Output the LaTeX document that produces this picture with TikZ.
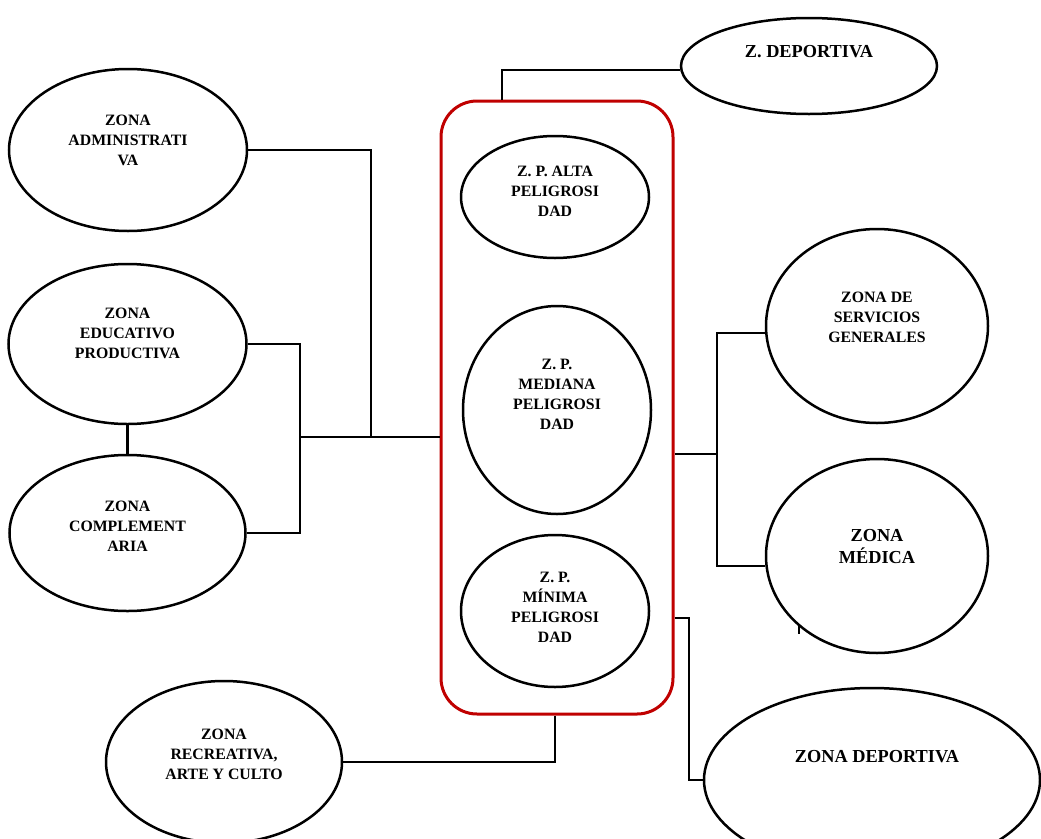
\documentclass[tikz,border=0pt]{standalone}
\usepackage{fontspec}
\setmainfont{Liberation Serif}
\usetikzlibrary{shapes.geometric}
\definecolor{boxred}{HTML}{C00000}
\begin{document}
\begin{tikzpicture}[x=1pt,y=-1pt,
  zone/.style={draw, ellipse, line width=2.5pt, inner sep=0pt},
  lbl/.style={align=center, font=\bfseries\fontsize{15.8}{20}\selectfont, inner sep=0pt},
  big/.style={align=center, font=\bfseries\fontsize{18.3}{22}\selectfont, inner sep=0pt},
  link/.style={draw, line width=2.2pt}]
\clip (0,0) rectangle (1041,838);
\fill[white] (0,0) rectangle (1041,838);

% left ellipses
\node[zone, minimum width=238pt, minimum height=162pt] (adm) at (128,150) {};
\node[lbl] (admt) at (128,140) {ZONA\\ADMINISTRATI\\VA};
\node[zone, minimum width=238pt, minimum height=160pt] (edu) at (127.5,344) {};
\node[lbl] (edut) at (127.5,333) {ZONA\\EDUCATIVO\\PRODUCTIVA};
\node[zone, minimum width=236pt, minimum height=156pt] (comp) at (127.5,533) {};
\node[lbl] (compt) at (127.5,526) {ZONA\\COMPLEMENT\\ARIA};
\node[zone, minimum width=236pt, minimum height=162pt] (recr) at (224,762) {};
\node[lbl] (recrt) at (224,754) {ZONA\\RECREATIVA,\\ARTE Y CULTO};

% central box
\node[draw=boxred, line width=3pt, rounded corners=36pt, minimum width=232pt, minimum height=613pt, inner sep=0pt] (box) at (557,407.5) {};
\node[zone, minimum width=188pt, minimum height=122pt] (alta) at (555,197) {};
\node[lbl] (altat) at (555,191) {Z. P. ALTA\\PELIGROSI\\DAD};
\node[zone, minimum width=188pt, minimum height=208pt] (medi) at (557,410) {};
\node[lbl] (medit) at (557,394) {Z. P.\\MEDIANA\\PELIGROSI\\DAD};
\node[zone, minimum width=188pt, minimum height=152pt] (mini) at (555,611) {};
\node[lbl] (minit) at (555,607) {Z. P.\\MÍNIMA\\PELIGROSI\\DAD};

% right ellipses
\node[zone, minimum width=256pt, minimum height=96pt] (zdep) at (809,66) {};
\node[big] (zdept) at (809,52) {Z. DEPORTIVA};
\node[zone, minimum width=222pt, minimum height=194pt] (serv) at (877,326) {};
\node[lbl] (servt) at (877,317) {ZONA DE\\SERVICIOS\\GENERALES};
\node[zone, minimum width=222pt, minimum height=194pt] (medz) at (877,556) {};
\node[big] (medzt) at (877,547) {ZONA\\MÉDICA};
\node[zone, minimum width=336pt, minimum height=184pt] (zd) at (872,780) {};
\node[big] (zdt) at (877,757) {ZONA DEPORTIVA};

% junction coordinates
\coordinate (lj) at (371,437);
\coordinate (ej) at (300,437);
\coordinate (tj) at (502,70);
\coordinate (rj) at (717,454);
\coordinate (rt) at (717,333);
\coordinate (rb) at (717,566);
\coordinate (dj) at (689,618);
\coordinate (bj) at (555,765);
\coordinate (tk) at (799,624);

% connectors
\draw[link] (adm.east) -| (lj);
\draw[link] (edu.east) -| (ej) |- (comp.east);
\draw[link] (edu.south) -- (comp.north);
\draw[link] (ej) -- (ej -| box.west);
\draw[link] (box.north -| tj) -- (tj) -- (tj -| zdep.west);
\draw[link] (rj -| box.east) -- (rj);
\draw[link] (rt -| serv.west) -- (rt) -- (rb) -- (rb -| medz.west);
\draw[link] (dj -| box.east) -- (dj) |- (zd.west);
\draw[link] (box.south -| bj) |- (recr.east);
\draw[link] (tk) -- ++(0,10);
\end{tikzpicture}
\end{document}
